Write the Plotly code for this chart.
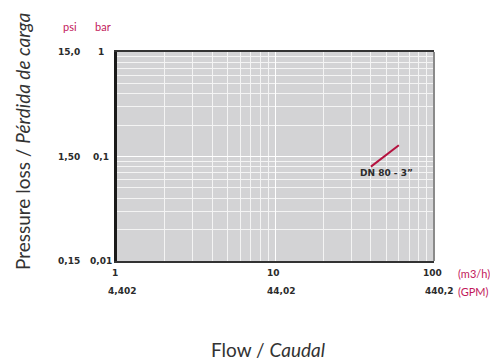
import math
import plotly.graph_objects as go

# data
flow_m3h = [40, 60]
loss_bar = [0.08, 0.128]
series_label = "DN 80 - 3\u201d"

x_ticks = [1, 10, 100]
x_tick_m3h = ["1", "10", "100"]
x_tick_gpm = ["4,402", "44,02", "440,2"]
y_ticks = [0.01, 0.1, 1]
y_tick_bar = ["0,01", "0,1", "1"]
y_tick_psi = ["0,15", "1,50", "15,0"]

minor_x = [v * d for d in (1, 10) for v in range(2, 10)]
minor_y = [v * d for d in (0.01, 0.1) for v in range(2, 10)]

CRIMSON = "#c2185b"
RED = "#b5123f"
DARK = "#2b2b2b"
FONT = "Lato"
TICKFONT = dict(size=9, color=DARK, family="DejaVu Sans")
UNITFONT = dict(size=11, color=CRIMSON, family=FONT)
TITLEFONT = dict(size=19, color="#333333", family=FONT)

fig = go.Figure()
fig.add_trace(go.Scatter(x=flow_m3h, y=loss_bar, mode="lines",
                         line=dict(color=RED, width=2), showlegend=False,
                         hoverinfo="skip"))

W, H = 490, 361
L, R, T, B = 117, 56, 52, 100
PW, PH = W - L - R, H - T - B

def px(xp):
    return (xp - L) / PW

def py(yp):
    return (H - B - yp) / PH

fig.update_layout(
    width=W, height=H,
    margin=dict(l=L, r=R, t=T, b=B),
    paper_bgcolor="white", plot_bgcolor="#d3d3d5",
    font=dict(family=FONT, color=DARK),
    xaxis=dict(type="log", range=[0, 2], tickmode="array", tickvals=x_ticks,
               showticklabels=False,
               ticks="", showgrid=True, gridcolor="white", gridwidth=1,
               minor=dict(tickmode="array", tickvals=minor_x, showgrid=True,
                          gridcolor="#f4f4f4", gridwidth=1, ticks=""),
               showline=True, linecolor="#333333", linewidth=2, mirror=True,
               zeroline=False, fixedrange=True),
    yaxis=dict(type="log", range=[-2, 0], tickmode="array", tickvals=y_ticks,
               showticklabels=False,
               ticks="", showgrid=True, gridcolor="white", gridwidth=1,
               minor=dict(tickmode="array", tickvals=minor_y, showgrid=True,
                          gridcolor="#f4f4f4", gridwidth=1, ticks=""),
               showline=True, linecolor="#1a1a1a", linewidth=3,
               zeroline=False, fixedrange=True),
)

# right grey border
fig.add_shape(type="line", xref="paper", yref="paper", x0=1, x1=1, y0=0, y1=1,
              line=dict(color="#8a8a8a", width=2))

lg = math.log10
ann = []
# bar and psi columns
for v, tb, tp in zip(y_ticks, y_tick_bar, y_tick_psi):
    ann.append(dict(x=px(101), xref="paper", y=lg(v), yref="y", text="<b>%s</b>" % tb,
                    showarrow=False, xanchor="center", font=TICKFONT))
    ann.append(dict(x=px(69), xref="paper", y=lg(v), yref="y", text="<b>%s</b>" % tp,
                    showarrow=False, xanchor="center", font=TICKFONT))
# m3/h and GPM rows
for v, tm, tg in zip(x_ticks, x_tick_m3h, x_tick_gpm):
    ann.append(dict(x=lg(v), xref="x", y=py(273), yref="paper", text="<b>%s</b>" % tm,
                    showarrow=False, yanchor="middle", xshift=-2, font=TICKFONT))
    ann.append(dict(x=lg(v), xref="x", y=py(291), yref="paper", text="<b>%s</b>" % tg,
                    showarrow=False, yanchor="middle", xshift=5, font=TICKFONT))
# units
ann.append(dict(x=px(70), xref="paper", y=py(26), yref="paper", text="psi",
                showarrow=False, xanchor="center", yanchor="middle", font=UNITFONT))
ann.append(dict(x=px(103), xref="paper", y=py(26), yref="paper", text="bar",
                showarrow=False, xanchor="center", yanchor="middle", font=UNITFONT))
ann.append(dict(x=px(456), xref="paper", y=py(273), yref="paper", text="(m3/h)",
                showarrow=False, xanchor="left", yanchor="middle", font=UNITFONT))
ann.append(dict(x=px(456), xref="paper", y=py(291), yref="paper", text="(GPM)",
                showarrow=False, xanchor="left", yanchor="middle", font=UNITFONT))
# series label
ann.append(dict(x=lg(50), xref="x", y=lg(0.069), yref="y", text="<b>%s</b>" % series_label,
                showarrow=False, font=TICKFONT))
# axis titles
ann.append(dict(x=px(22), xref="paper", y=py(141), yref="paper",
                text="Pressure loss / <i>Pérdida de carga</i>", textangle=-90,
                showarrow=False, xanchor="center", yanchor="middle", font=TITLEFONT))
ann.append(dict(x=px(268), xref="paper", y=py(349), yref="paper",
                text="Flow / <i>Caudal</i>",
                showarrow=False, xanchor="center", yanchor="middle", font=TITLEFONT))
fig.update_layout(annotations=ann)

fig.write_html("out.html", config={"displayModeBar": False},
               post_script="document.body.style.margin='0';document.body.style.overflow='hidden';")
